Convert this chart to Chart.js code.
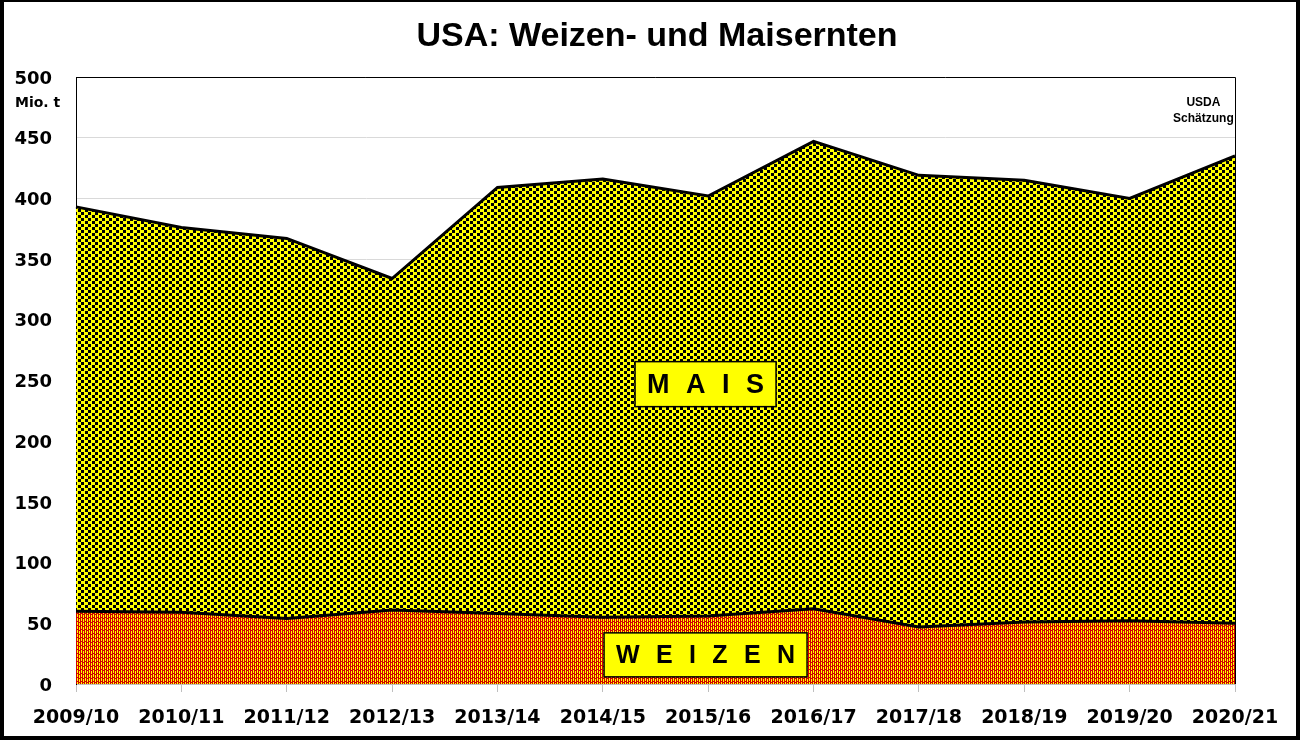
<!DOCTYPE html>
<html lang="de">
<head>
    <meta charset="UTF-8">
    <title>USA: Weizen- und Maisernten</title>
    <script src="https://cdn.jsdelivr.net/npm/chart.js"></script>
    <style>
        body { margin: 0; background: white; }
        .frame { position: absolute; left: 0; top: 0; width: 1300px; height: 740px; box-sizing: border-box;
                 border-style: solid; border-color: #000; border-width: 2px 4px 4px 4px; }
        #chartContainer { position: relative; width: 1292px; height: 734px; }
    </style>
</head>
<body>
    <div class="frame">
        <div id="chartContainer">
            <canvas id="ernteChart"></canvas>
        </div>
    </div>

    <script>
        // Erntejahre
        const seasons = ['2009/10', '2010/11', '2011/12', '2012/13', '2013/14', '2014/15',
                         '2015/16', '2016/17', '2017/18', '2018/19', '2019/20', '2020/21'];
        // Mio. t
        const weizen = [60, 59, 54, 61, 58, 55, 56, 62, 47, 51, 52, 50];
        const mais   = [333, 317, 313, 273, 351, 361, 346, 385, 372, 364, 348, 385];
        const yTicks = [0, 50, 100, 150, 200, 250, 300, 350, 400, 450, 500];

        // small bitmap patterns like the Excel fills
        function makePattern(w, h, bg, fg, rects) {
            const c = document.createElement('canvas');
            c.width = w; c.height = h;
            const g = c.getContext('2d');
            g.fillStyle = bg;
            g.fillRect(0, 0, w, h);
            g.fillStyle = fg;
            rects.forEach(r => g.fillRect(r[0], r[1], r[2], r[3]));
            return g.createPattern(c, 'repeat');
        }

        const maisFill = makePattern(7, 6, '#ffff00', '#000000', [[0, 0, 3, 3], [4, 3, 3, 3]]);
        const weizenFill = makePattern(4, 4, '#d00000', '#ffff00', [[1, 0, 1, 3], [3, 1, 1, 3]]);

        function drawTag(ctx, text, cx, cy, w, h, size, spacing) {
            ctx.save();
            ctx.fillStyle = '#ffff00';
            ctx.strokeStyle = '#000';
            ctx.lineWidth = 1.5;
            ctx.fillRect(cx - w / 2, cy - h / 2, w, h);
            ctx.strokeRect(cx - w / 2, cy - h / 2, w, h);
            ctx.fillStyle = '#000';
            ctx.font = 'bold ' + size + 'px "Liberation Sans", Arial, sans-serif';
            ctx.letterSpacing = spacing + 'px';
            ctx.textAlign = 'center';
            ctx.textBaseline = 'middle';
            ctx.fillText(text, cx + spacing / 2, cy + 1);
            ctx.restore();
        }

        const extras = {
            id: 'extras',
            afterDatasetsDraw(chart) {
                const ctx = chart.ctx;
                const a = chart.chartArea;
                const x = chart.scales.x;
                const y = chart.scales.y;

                // frame top and right
                ctx.save();
                ctx.strokeStyle = '#000';
                ctx.lineWidth = 1;
                ctx.beginPath();
                ctx.moveTo(a.left, a.top + 0.5);
                ctx.lineTo(a.right + 0.5, a.top + 0.5);
                ctx.lineTo(a.right + 0.5, a.bottom);
                ctx.stroke();
                ctx.restore();

                drawTag(ctx, 'MAIS'.split('').join(' '), x.getPixelForValue(5.975), y.getPixelForValue(247), 141, 45, 27, 4.5);
                drawTag(ctx, 'WEIZEN'.split('').join(' '), x.getPixelForValue(5.975), y.getPixelForValue(24), 203, 44, 25, 4.7);

                ctx.save();
                ctx.fillStyle = '#000';
                ctx.textAlign = 'center';
                ctx.textBaseline = 'middle';

                // title, centred on the whole picture
                ctx.font = 'bold 34px "Liberation Sans", Arial, sans-serif';
                ctx.fillText('USA: Weizen- und Maisernten', 653, 35);

                ctx.font = 'bold 12px "Liberation Sans", Arial, sans-serif';
                const ux = x.getPixelForValue(10.7);
                ctx.fillText('USDA', ux, y.getPixelForValue(478.5));
                ctx.fillText('Schätzung', ux, y.getPixelForValue(465.5));

                ctx.textAlign = 'left';
                ctx.font = 'bold 14px "DejaVu Sans", sans-serif';
                ctx.fillText('Mio. t', 11, y.getPixelForValue(478));
                ctx.restore();
            }
        };

        window.addEventListener('load', function() {
            const ctx = document.getElementById('ernteChart').getContext('2d');

            const chart = new Chart(ctx, {
                type: 'line',
                data: {
                    labels: seasons,
                    datasets: [{
                        label: 'Weizen',
                        data: weizen,
                        borderColor: '#000',
                        borderWidth: 3,
                        backgroundColor: weizenFill,
                        fill: 'origin',
                        tension: 0,
                        pointRadius: 0
                    }, {
                        label: 'Mais',
                        data: mais,
                        borderColor: '#000',
                        borderWidth: 3,
                        backgroundColor: maisFill,
                        fill: '-1',
                        tension: 0,
                        pointRadius: 0
                    }]
                },
                options: {
                    responsive: true,
                    maintainAspectRatio: false,
                    animation: false,
                    layout: { padding: { left: 0, right: 61, top: 75, bottom: 0 } },
                    plugins: {
                        legend: { display: false },
                        tooltip: { enabled: false },
                        title: { display: false }
                    },
                    scales: {
                        x: {
                            offset: false,
                            grid: { drawOnChartArea: false, drawTicks: true, tickLength: 8, color: '#bfbfbf', offset: false },
                            border: { color: '#bfbfbf' },
                            ticks: {
                                color: '#000',
                                padding: 15,
                                maxRotation: 0,
                                autoSkip: false,
                                font: { family: '"DejaVu Sans", sans-serif', size: 19, weight: 'bold' }
                            },
                            afterFit(s) { s.height = 52; }
                        },
                        y: {
                            stacked: true,
                            min: 0,
                            max: 500,
                            afterBuildTicks(s) { s.ticks = yTicks.map(v => ({ value: v })); },
                            grid: { color: '#d9d9d9', drawTicks: false },
                            border: { color: '#000' },
                            ticks: {
                                color: '#000',
                                padding: 24,
                                labelOffset: 2,
                                font: { family: '"DejaVu Sans", sans-serif', size: 18, weight: 'bold' }
                            },
                            afterFit(s) { s.width = 72; }
                        }
                    }
                },
                plugins: [extras]
            });
        });
    </script>
</body>
</html>
